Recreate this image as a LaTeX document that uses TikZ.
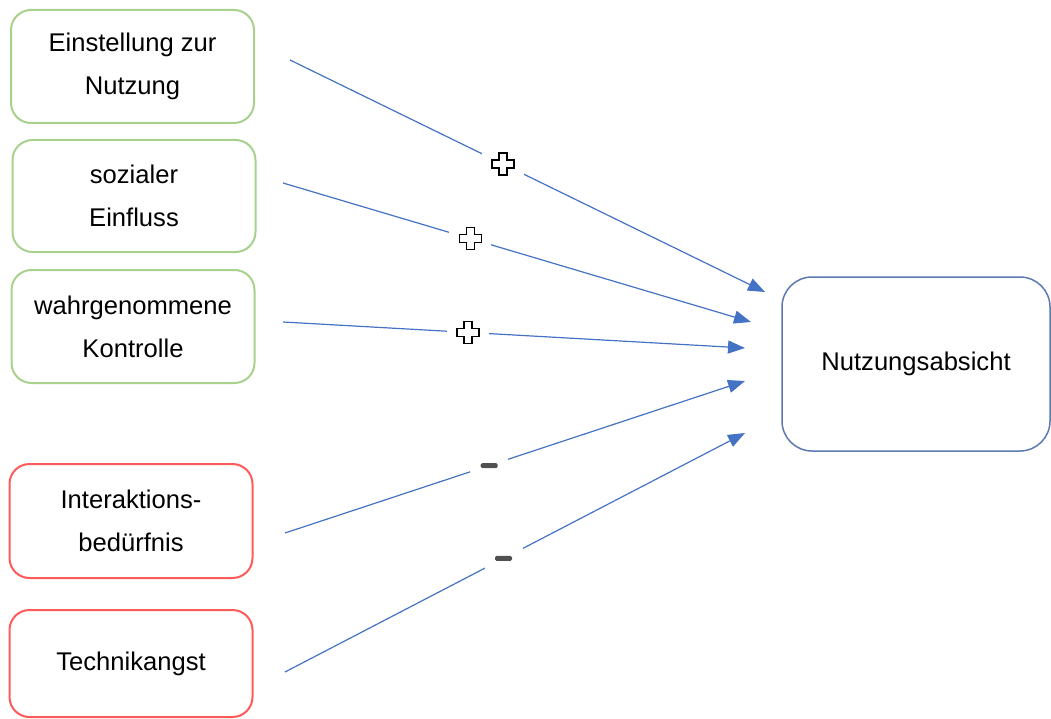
\documentclass[tikz,border=0pt]{standalone}
\usepackage{fontspec}
\setmainfont{Liberation Sans}
\usetikzlibrary{arrows.meta}
\definecolor{boxgreen}{HTML}{A9D18E}
\definecolor{boxred}{HTML}{FF5A5A}
\definecolor{boxblue}{HTML}{5B7BB0}
\definecolor{arrowblue}{HTML}{4472C4}
\definecolor{minusgray}{HTML}{505050}
\tikzset{
	factor/.style={draw,line width=2pt,rounded corners=20pt,align=center,minimum width=243pt,minimum height=113pt,font=\fontsize{25.6}{43}\selectfont},
	posfactor/.style={factor,draw=boxgreen},
	negfactor/.style={factor,draw=boxred},
	effect/.style={->,draw=arrowblue,line width=1.2pt},
	plussign/.style={fill=white,inner sep=0pt,minimum size=42pt,
		path picture={\draw[black,line width=1.4pt,fill=white,shift={(path picture bounding box.center)}]
			(-4pt,11pt) -- (4pt,11pt) -- (4pt,4pt) -- (11pt,4pt) -- (11pt,-4pt) -- (4pt,-4pt)
			-- (4pt,-11pt) -- (-4pt,-11pt) -- (-4pt,-4pt) -- (-11pt,-4pt) -- (-11pt,4pt) -- (-4pt,4pt) -- cycle;}},
	minussign/.style={fill=white,inner sep=0pt,minimum size=38pt,
		path picture={\fill[minusgray,rounded corners=1.5pt,shift={(path picture bounding box.center)}]
			(-8.5pt,-2.5pt) rectangle (8.5pt,2.5pt);}}
}
\begin{document}
\begin{tikzpicture}[x=1pt,y=-1pt,>={Triangle[length=17pt,width=13pt]}]
	\useasboundingbox (0,0) rectangle (1051,719);
	% Einflussfaktoren
	\node[posfactor] (einstellung) at (132.5,66.5) {Einstellung zur\\Nutzung};
	\node[posfactor,minimum height=112pt] (einfluss) at (134,196) {sozialer\\Einfluss};
	\node[posfactor] (kontrolle) at (133,326.5) {wahrgenommene\\Kontrolle};
	\node[negfactor,minimum height=114pt] (interaktion) at (131,521) {Interaktions-\\bed\"urfnis};
	\node[negfactor,minimum height=107pt] (angst) at (131,663.5) {Technikangst};
	% Zielgroesse
	\node[factor,draw=boxblue,line width=1.5pt,rounded corners=30pt,minimum width=268pt,minimum height=174pt] (absicht) at (916,364) {Nutzungsabsicht};
	% Pfeilenden
	\coordinate (s1) at (290,60);  \coordinate (e1) at (765,292);
	\coordinate (s2) at (283,183); \coordinate (e2) at (751,322);
	\coordinate (s3) at (283,322); \coordinate (e3) at (745,348);
	\coordinate (s4) at (285,533); \coordinate (e4) at (745,381);
	\coordinate (s5) at (285,672); \coordinate (e5) at (745,433);
	% Pfeile
	\draw[effect] (s1) -- node[plussign,pos=.448] {} (e1);
	\draw[effect] (s2) -- node[plussign,pos=.40] {} (e2);
	\draw[effect] (s3) -- node[plussign,pos=.40] {} (e3);
	\draw[effect] (s4) -- node[minussign,pos=.444] {} (e4);
	\draw[effect] (s5) -- node[minussign,pos=.475] {} (e5);
\end{tikzpicture}
\end{document}
